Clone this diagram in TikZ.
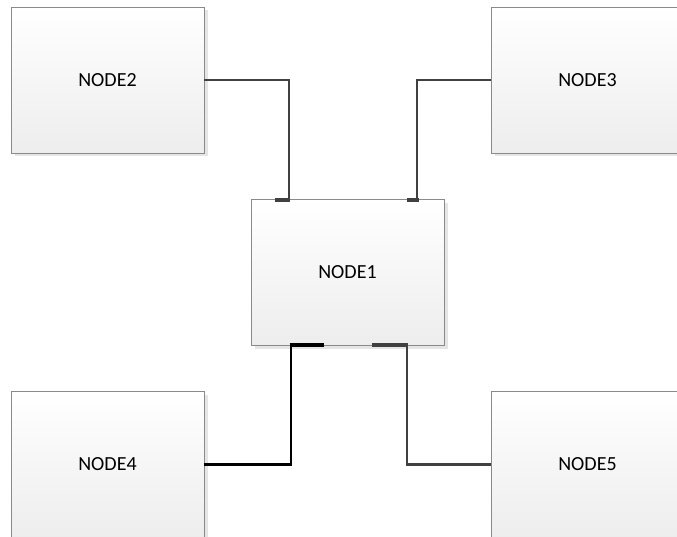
\documentclass[tikz,border=0pt]{standalone}
\usepackage{fontspec}
\setmainfont{Carlito}
\usetikzlibrary{shadows}
\definecolor{linegray}{HTML}{404040}
\definecolor{boxborder}{HTML}{8A8A8A}
\tikzset{
  box/.style={draw=boxborder, line width=0.9pt, top color=white, bottom color=black!7,
    minimum width=193pt, minimum height=146pt, inner sep=0pt, font=\fontsize{20}{24}\selectfont,
    general shadow={fill=black!10, shadow xshift=3.5pt, shadow yshift=-3.5pt}},
  conn/.style={line width=2.5pt, draw=linegray},
  connblack/.style={line width=2.6pt, draw=black},
  stub/.style={line width=3.2pt, draw=linegray},
}
\begin{document}
\begin{tikzpicture}[x=1pt,y=-1pt]
\useasboundingbox (0,0) rectangle (677,537);
\node[box] (n2) at (107.5,80) {NODE2};
\node[box] (n3) at (587.5,80) {NODE3};
\node[box] (n1) at (347.5,272.5) {NODE1};
\node[box] (n4) at (107.5,464.5) {NODE4};
\node[box] (n5) at (587.5,464.5) {NODE5};
\coordinate (a2) at (289,200);
\coordinate (a3) at (417,200);
\coordinate (a4) at (291,345);
\coordinate (a5) at (407,345);
\coordinate (s2) at (275,200);
\coordinate (s3a) at (407,200);
\coordinate (s3b) at (419,200);
\coordinate (s4) at (324,345);
\coordinate (s5) at (372,345);
\draw[conn] (n2.east) -| (a2);
\draw[conn] (n3.west) -| (a3);
\draw[connblack] (n4.east) -| (a4);
\draw[conn] (n5.west) -| (a5);
\draw[stub] (s2) -- ([xshift=1.2pt]a2);
\draw[stub] (s3a) -- (s3b);
\draw[stub, draw=black] ([xshift=-1.3pt]a4) -- (s4);
\draw[stub] (s5) -- ([xshift=1.2pt]a5);
\end{tikzpicture}
\end{document}
